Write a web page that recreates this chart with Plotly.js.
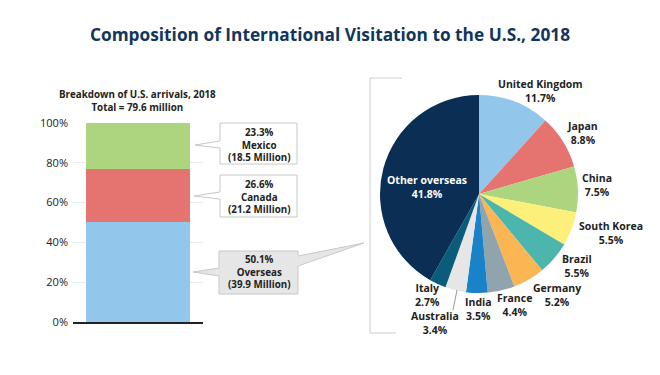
<!DOCTYPE html>
<html>
<head>
<meta charset="utf-8">
<script src="https://cdn.plot.ly/plotly-3.0.1.min.js"></script>
<style>html,body{margin:0;padding:0;background:#fff;}#chart{width:660px;height:375px;}</style>
</head>
<body>
<div id="chart"></div>
<script>
// ---- Data ----
const barSegments = ["Overseas", "Canada", "Mexico"];
const barShares = [50.1, 26.6, 23.3];
const barMillions = [39.9, 21.2, 18.5];
const barColors = ["#93c6eb", "#e5736f", "#add57f"];
const totalArrivals = 79.6;

const pieCountries = ["United Kingdom", "Japan", "China", "South Korea", "Brazil", "Germany", "France", "India", "Australia", "Italy", "Other overseas"];
const pieShares = [11.7, 8.8, 7.5, 5.5, 5.5, 5.2, 4.4, 3.5, 3.4, 2.7, 41.8];
const pieColors = ["#93c6eb", "#e5736f", "#add57f", "#fdf07a", "#4db6ac", "#fbb552", "#90a4ae", "#1a82c8", "#e6e6e6", "#0b5c7a", "#0b2e55"];

const yTicks = [0, 20, 40, 60, 80, 100];

// ---- Helpers (pixel -> paper, margins are zero) ----
const W = 660, H = 375;
const px = x => x / W;
const py = y => 1 - y / H;
function pathPx(pts, close) {
  let s = pts.map((p, i) => (i ? "L" : "M") + px(p[0]).toFixed(5) + "," + py(p[1]).toFixed(5)).join(" ");
  return close ? s + " Z" : s;
}
const FONT = "Open Sans, Arial, sans-serif";
const TXT = "#222222";

// ---- Traces ----
const traces = barSegments.map((name, i) => ({
  type: "bar",
  x: [""],
  y: [barShares[i]],
  name: name,
  marker: {color: barColors[i], line: {width: 0}},
  width: 0.8,
  hoverinfo: "none",
  showlegend: false
}));

traces.push({
  type: "pie",
  labels: pieCountries,
  values: pieShares,
  marker: {colors: pieColors, line: {width: 0}},
  sort: false,
  direction: "clockwise",
  rotation: 0,
  textinfo: "none",
  hoverinfo: "none",
  showlegend: false,
  domain: {x: [px(380), px(578)], y: [py(293), py(95)]}
});

// ---- Shapes ----
const boxLine = {color: "#c8c8c8", width: 1};
const shapes = [];
function callout(box, tip, baseY, fill) {
  shapes.push({type: "rect", xref: "paper", yref: "paper", x0: px(box[0]), x1: px(box[2]), y0: py(box[3]), y1: py(box[1]), fillcolor: fill, line: boxLine, layer: "above"});
  shapes.push({type: "path", xref: "paper", yref: "paper", path: pathPx([[box[0] + 1, baseY[0]], tip, [box[0] + 1, baseY[1]]], true), fillcolor: fill, line: {width: 0}, layer: "above"});
  shapes.push({type: "path", xref: "paper", yref: "paper", path: pathPx([[box[0], baseY[0]], tip, [box[0], baseY[1]]], false), line: boxLine, layer: "above"});
}
// Mexico, Canada, Overseas boxes
callout([220, 123, 297, 164], [195, 145], [141, 148], "#ffffff");
callout([220, 175, 297, 217], [194, 196], [192, 199], "#ffffff");
callout([219, 251, 298, 294], [193, 272], [268, 276], "#e6e6e6");
// Overseas wedge toward pie
shapes.push({type: "path", xref: "paper", yref: "paper", path: pathPx([[297, 256], [364, 243], [297, 266]], true), fillcolor: "#e6e6e6", line: {width: 0}, layer: "above"});
shapes.push({type: "path", xref: "paper", yref: "paper", path: pathPx([[298, 256], [364, 243], [298, 266]], false), line: boxLine, layer: "above"});
// bracket around pie
shapes.push({type: "path", xref: "paper", yref: "paper", path: pathPx([[402, 78], [370, 78], [370, 333], [396, 333]], false), line: {color: "#cccccc", width: 1}});
// Australia leader line
shapes.push({type: "line", xref: "paper", yref: "paper", x0: px(457), y0: py(290), x1: px(453), y1: py(310), line: {color: "#9a9a9a", width: 1}});

// ---- Annotations ----
const annotations = [];
function ann(lines, x, yc, size, color) {
  annotations.push({text: "<b>" + lines.join("<br>") + "</b>", xref: "paper", yref: "paper", x: px(x), y: py(yc), xanchor: "center", yanchor: "middle", showarrow: false, align: "center", borderpad: 0, font: {family: FONT, size: size, color: color || TXT}});
}
ann(["Breakdown of U.S. arrivals, 2018", "Total = " + totalArrivals + " million"], 137, 100.5, 9.8);
const boxCenters = [[259, 272], [259, 197.5], [259, 145]];
barSegments.forEach((name, i) => {
  ann([barShares[i].toFixed(1) + "%", name, "(" + barMillions[i].toFixed(1) + " Million)"], boxCenters[i][0], boxCenters[i][1], 9.8);
});
const pieLabelPos = [[540, 91], [582, 133], [597, 185.5], [611, 233], [577, 266], [557, 294.5], [514.5, 305], [478, 309], [435, 323], [427, 294.5], [427, 187]];
pieCountries.forEach((name, i) => {
  const isOther = i === pieCountries.length - 1;
  ann([name, pieShares[i].toFixed(1) + "%"], pieLabelPos[i][0], pieLabelPos[i][1], 10.5, isOther ? "#ffffff" : TXT);
});

const layout = {
  width: W, height: H,
  margin: {l: 0, r: 0, t: 0, b: 0},
  paper_bgcolor: "#ffffff",
  plot_bgcolor: "rgba(0,0,0,0)",
  barmode: "stack",
  title: {text: "<b>Composition of International Visitation to the U.S., 2018</b>", x: 0.5, xanchor: "center", xref: "paper", y: py(35), yanchor: "middle", font: {family: FONT, size: 17.3, color: "#12365b"}},
  xaxis: {domain: [px(73), px(203)], range: [-0.5, 0.5], showticklabels: false, showgrid: false, zeroline: false, showline: true, linecolor: "#222222", linewidth: 1.5, ticks: "", fixedrange: true},
  yaxis: {domain: [py(322), py(123)], range: [0, 100], tickvals: yTicks, ticktext: yTicks.map(v => v + "%"), showgrid: true, gridcolor: "#ebebeb", gridwidth: 1, zeroline: false, showline: false, ticks: "", ticklabelstandoff: 4, tickfont: {family: FONT, size: 11, color: TXT}, fixedrange: true},
  shapes: shapes,
  annotations: annotations
};

Plotly.newPlot("chart", traces, layout, {displayModeBar: false, staticPlot: true});
</script>
</body>
</html>
